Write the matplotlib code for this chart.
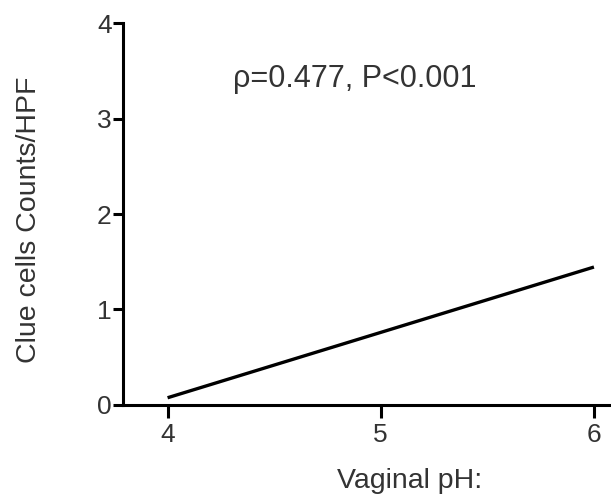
import numpy as np
import matplotlib
matplotlib.use('Agg')
import matplotlib.pyplot as plt

# regression line end points
ph_vals = [4.0, 6.0]
clue_vals = [0.075, 1.445]

xticks = [4, 5, 6]
yticks = [0, 1, 2, 3, 4]
annot = u'\u03c1=0.477, P<0.001'

plt.rcParams['font.family'] = ['Liberation Sans', 'DejaVu Sans']

fig = plt.figure(figsize=(6.11, 4.95), dpi=100)
ax = fig.add_axes([0.201, 0.182, 0.799, 0.771])

ax.plot(ph_vals, clue_vals, color='black', lw=2.4, solid_capstyle='butt')

ax.set_xlim(3.79, 6.08)
ax.set_ylim(0, 4)
ax.set_xticks(xticks)
ax.set_yticks(yticks)

for s in ['top', 'right']:
    ax.spines[s].set_visible(False)
for s in ['left', 'bottom']:
    ax.spines[s].set_linewidth(2.2)
    ax.spines[s].set_color('black')

ax.tick_params(axis='both', width=2.2, colors='black', labelcolor='#333333',
               labelsize=19)
ax.tick_params(axis='y', length=7, pad=1)
ax.tick_params(axis='x', length=9, pad=4)

ax.set_xlabel('Vaginal pH:', fontsize=20.5, color='#333333')
ax.set_ylabel('Clue cells Counts/HPF', fontsize=20.5, color='#333333')
ax.xaxis.set_label_coords(0.588, -0.165)
ax.yaxis.set_label_coords(-0.165, 0.484)

ax.text(4.88, 3.42, annot, fontsize=22, color='#333333',
        ha='center', va='center')

fig.savefig('out.png', dpi=100)
plt.close(fig)
